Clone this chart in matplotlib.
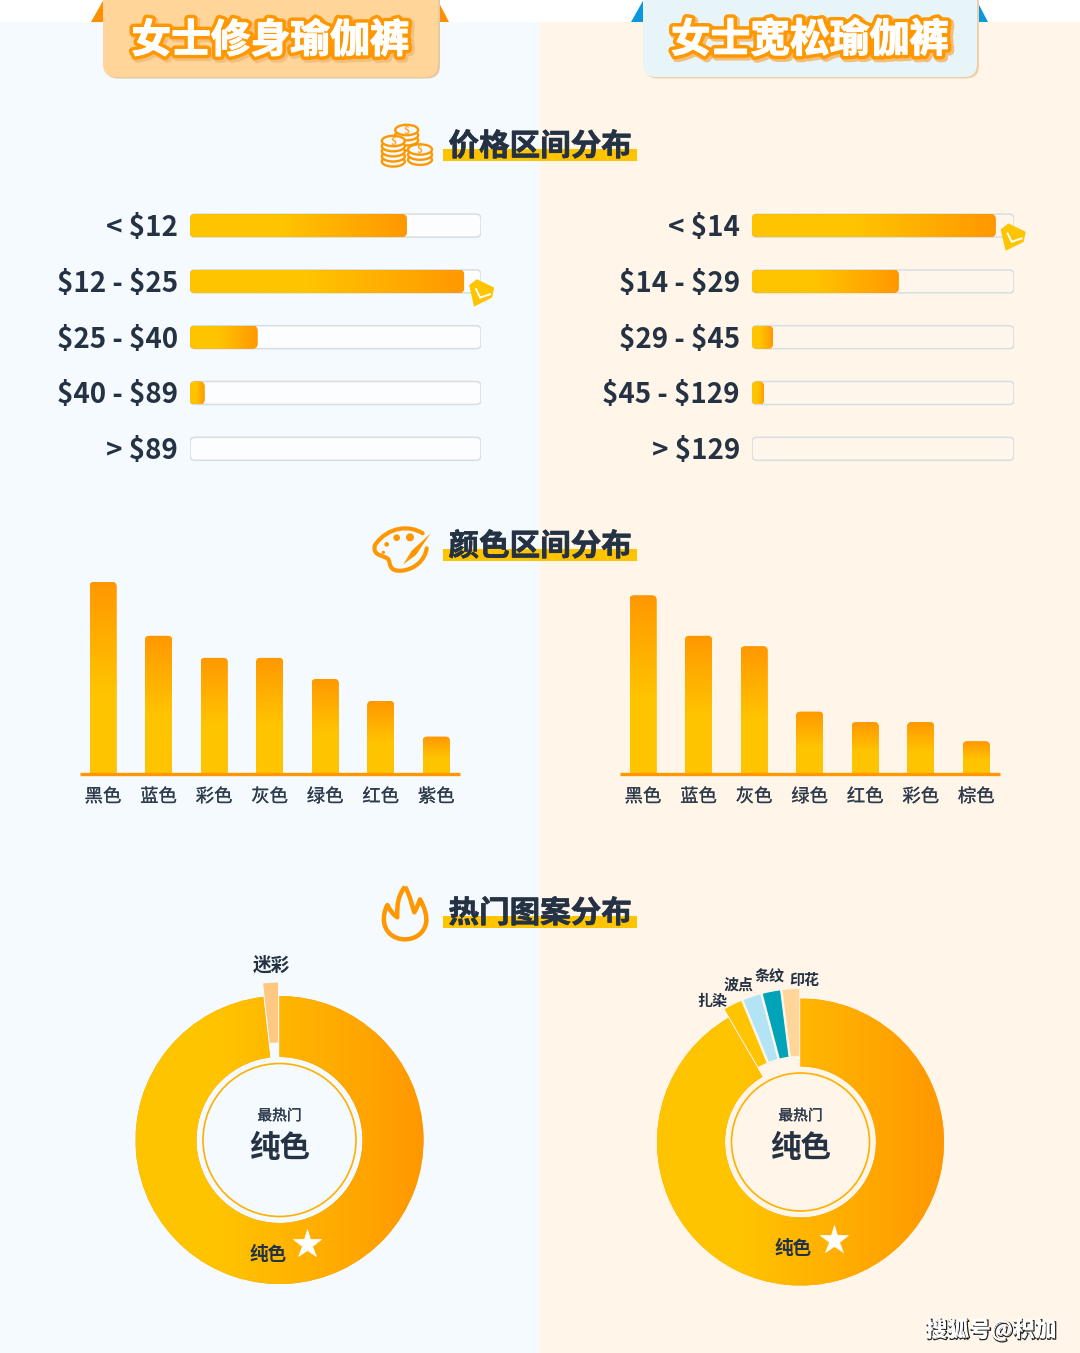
import numpy as np
import matplotlib
matplotlib.use('Agg')
import matplotlib.pyplot as plt
from matplotlib.patches import FancyBboxPatch, Polygon, Rectangle, Ellipse, Circle, PathPatch
from matplotlib.path import Path
from matplotlib.colors import LinearSegmentedColormap
import matplotlib.patheffects as pe

# ---- data ----
left_title = '女士修身瑜伽裤'
right_title = '女士宽松瑜伽裤'
section_titles = ['价格区间分布', '颜色区间分布', '热门图案分布']

left_price_labels = ['< $12', '$12 - $25', '$25 - $40', '$40 - $89', '> $89']
left_price_values = [74.5, 94.2, 23.2, 5.0, 0]
right_price_labels = ['< $14', '$14 - $29', '$29 - $45', '$45 - $129', '> $129']
right_price_values = [93.0, 56.0, 8.0, 4.6, 0]

left_color_labels = ['黑色', '蓝色', '彩色', '灰色', '绿色', '红色', '紫色']
left_color_values = [100, 72, 60.5, 60.5, 49.5, 38, 19.5]
right_color_labels = ['黑色', '蓝色', '灰色', '绿色', '红色', '彩色', '棕色']
right_color_values = [93, 72, 66.5, 32.5, 27, 27, 17]

left_pie_labels = ['迷彩', '纯色']
left_pie_values = [1.8, 98.2]
right_pie_labels = ['印花', '条纹', '波点', '扎染', '纯色']
right_pie_values = [2.0, 2.1, 2.1, 2.2, 91.6]

# ---- style ----
W, H = 1080, 1353
CJK = ['Noto Sans CJK SC', 'DejaVu Sans']
plt.rcParams['font.family'] = CJK
DARK = '#253244'
ORANGE = '#FF9800'
YELLOW = '#FFC400'
BG_L = '#F4FAFD'
BG_R = '#FFF5E8'
grad = LinearSegmentedColormap.from_list(
    'g', [(0, YELLOW), (0.42, YELLOW), (1, ORANGE)])
grad_pie = LinearSegmentedColormap.from_list(
    'gp', [(0, YELLOW), (0.28, YELLOW), (1, ORANGE)])

fig = plt.figure(figsize=(W / 100, H / 100), dpi=100, facecolor='white')


def px_axes(x0, y0, x1, y1, z=2):
    ax = fig.add_axes([x0 / W, 1 - y1 / H, (x1 - x0) / W, (y1 - y0) / H], zorder=z)
    ax.patch.set_alpha(0)
    return ax


def overlay(z):
    ax = fig.add_axes([0, 0, 1, 1], zorder=z)
    ax.set_xlim(0, W)
    ax.set_ylim(H, 0)
    ax.axis('off')
    ax.patch.set_alpha(0)
    return ax


def thick(color, lw):
    return [pe.Stroke(linewidth=lw, foreground=color), pe.Normal()]


bg = overlay(0)
fg = overlay(6)

# backgrounds
bg.add_patch(Rectangle((0, 22), 540, H - 22, fc=BG_L, ec='none'))
bg.add_patch(Rectangle((540, 22), 540, H - 22, fc=BG_R, ec='none'))


def banner(x0, x1, title, cx, cy, fill, tri, shadow):
    for pts in ([(x0 - 12, 21.5), (x0 + 1, 21.5), (x0 + 1, -1)],
                [(x1 + 11, 21.5), (x1 - 1, 21.5), (x1 - 1, -1)]):
        fg.add_patch(Polygon(pts, fc=tri, ec='none'))
    fg.add_patch(FancyBboxPatch((x0 + 2, -30), x1 - x0, 108.5,
                                boxstyle='round,pad=0,rounding_size=13', fc=shadow, ec='none'))
    fg.add_patch(FancyBboxPatch((x0, -30), x1 - x0, 107,
                                boxstyle='round,pad=0,rounding_size=13', fc=fill, ec='none'))
    fg.text(cx, cy, title, ha='center', va='center', fontsize=28.6, fontweight='bold',
            color='white', path_effects=[
                pe.Stroke(linewidth=6.8, foreground='#F3BE7C', offset=(1.5, -1.5)),
                pe.Stroke(linewidth=5.8, foreground=ORANGE),
                pe.Stroke(linewidth=0.8, foreground='white'),
                pe.Normal()])


banner(103, 438, left_title, 270.5, 41, '#FFD59A', '#FF8F00', '#E6C9A2')
banner(643, 977, right_title, 810, 40.5, '#E7F5F8', '#0A98DC', '#EFCFA8')

# section titles
for title, ty in zip(section_titles, [144, 544, 911]):
    fg.add_patch(Rectangle((443, ty + 5), 194, 12, fc=YELLOW, ec='none', zorder=1))
    fg.text(540, ty + 2.5, title, ha='center', va='center', fontsize=22, fontweight='bold',
            color=DARK, zorder=2, path_effects=thick(DARK, 0.5))


# ---- icons ----
def coin_stack(cx, top, rx, ry, n):
    step = 5.1
    for i in range(n, -1, -1):
        fg.add_patch(Ellipse((cx, top + i * step), 2 * rx, 2 * ry, fc=BG_L, ec=ORANGE, lw=1.7))
    fg.text(cx, top + 0.8, '$', ha='center', va='center', fontsize=7.5, fontweight='bold',
            color='#FFA726', parse_math=False)


coin_stack(406.7, 130, 11.5, 5.2, 3)
coin_stack(393.3, 141, 11.5, 5.2, 4)
coin_stack(420, 149.5, 12, 5.2, 2)

# palette
sx = lambda pts: [(360 + x / 3, 510 + y / 3) for x, y in pts]
pal = Path(sx([(188, 70), (150, 45), (85, 48), (45, 105),
               (35, 140), (75, 135), (85, 148),
               (92, 160), (85, 185), (125, 182),
               (165, 178), (195, 150), (200, 115)]),
           [Path.MOVETO] + [Path.CURVE4] * 12)
fg.add_patch(PathPatch(pal, fc='none', ec=ORANGE, lw=3, capstyle='round'))
fg.add_patch(Polygon(sx([(212, 70), (155, 122), (130, 163), (168, 135)]), fc=ORANGE, ec='none'))
for (x, y, r) in [(150, 82, 12), (110, 83, 10), (80, 103, 7), (70, 127, 5)]:
    fg.add_patch(Circle((360 + x / 3, 510 + y / 3), r / 3, fc=ORANGE, ec='none'))

# flame
fp = lambda pts: [(370 + x / 3, 880 + y / 3) for x, y in pts]
flame = Path(fp([(105, 20), (122, 50), (125, 75), (133, 97), (140, 85), (145, 72), (150, 58),
                 (165, 85), (172, 110), (168, 130), (162, 160), (135, 178), (105, 178),
                 (70, 178), (45, 155), (42, 125), (40, 105), (45, 90), (52, 75),
                 (60, 90), (70, 105), (82, 112), (80, 75), (85, 45), (105, 20)]),
             [Path.MOVETO] + [Path.CURVE4] * 24)
fg.add_patch(PathPatch(flame, fc='none', ec=ORANGE, lw=3.2, joinstyle='round'))


# ---- price bars ----
def price_panel(x0, x1, labels, values, track_fc, label_x):
    step, h, r = 55.8, 23.0, 5.0
    y_first = 225.6
    ax = px_axes(x0, y_first - step / 2, x1, y_first + 4.5 * step)
    pxx = (x1 - x0) / 100.0
    aspect = (1 / step) / (1 / pxx)
    hu = h / step
    ys = np.arange(len(values))
    rs = r / pxx
    for y in ys:
        ax.add_patch(FancyBboxPatch((0, y - hu / 2), 100, hu,
                                    boxstyle=f'round,pad=0,rounding_size={rs}', mutation_aspect=aspect,
                                    fc=track_fc, ec='#D8DEE0', lw=1.1, zorder=1))
    bars = ax.barh(ys, values, height=hu, color=ORANGE, zorder=2)
    for y, v, bar in zip(ys, values, bars):
        if v <= 0:
            continue
        clip = FancyBboxPatch((0, y - hu / 2), v, hu,
                              boxstyle=f'round,pad=0,rounding_size={rs}', mutation_aspect=aspect,
                              fc='none', ec='none', zorder=2)
        ax.add_patch(clip)
        bar.set_clip_path(clip)
        im = ax.imshow(np.linspace(0, 1, 256)[None, :], extent=(0, v, y + hu / 2, y - hu / 2),
                       cmap=grad, vmin=0, vmax=1, aspect='auto', zorder=3, interpolation='bilinear')
        im.set_clip_path(clip)
    ax.set_xlim(0, 100)
    ax.set_ylim(len(values) - 0.5, -0.5)
    ax.axis('off')
    for y, lab in zip(ys, labels):
        fg.text(label_x, y_first + y * step + 2.5, lab, ha='right', va='center', fontsize=20,
                fontweight='bold', color=DARK, parse_math=False)
    # badge on the longest bar
    i = int(np.argmax(values))
    bx = x0 + values[i] * pxx + 18
    by = y_first + i * step + 10.5
    rel = [(-5.3, -12.7), (12, -4.3), (10, 5.7), (-8, 14.7), (-13, -6.7)]
    fg.add_patch(Polygon([(bx + a, by + b) for a, b in rel], fc=YELLOW, ec='none'))
    fg.plot([bx - 6, bx - 2, bx + 8], [by - 2.7, by + 5.7, by + 2.3], color='white', lw=1.4,
            solid_joinstyle='miter')


price_panel(190, 481, left_price_labels, left_price_values, '#FBFDFE', 178)
price_panel(752, 1014, right_price_labels, right_price_values, '#FFF6EB', 740)


# ---- colour columns ----
def column_panel(x0, x1, labels, values):
    base, py100 = 774, 1.92
    step, w_px, r_px = 55.55, 27.0, 4.5
    ax = px_axes(x0, base - 106 * py100, x1, base)
    xs = np.arange(len(values))
    left_px = 23.0
    ax.set_xlim(-left_px / step, (x1 - x0 - left_px) / step)
    ax.set_ylim(0, 106)
    w = w_px / step
    aspect = (1 / py100) / (1 / step)
    rs = r_px / step
    bars = ax.bar(xs, values, width=w, color=ORANGE, zorder=2)
    for x, v, bar in zip(xs, values, bars):
        clip = FancyBboxPatch((x - w / 2, -5), w, v + 5,
                              boxstyle=f'round,pad=0,rounding_size={rs}', mutation_aspect=aspect,
                              fc='none', ec='none', zorder=2)
        ax.add_patch(clip)
        bar.set_clip_path(clip)
        im = ax.imshow(np.linspace(1, 0, 256)[:, None], extent=(x - w / 2, x + w / 2, 0, v),
                       cmap=grad, vmin=0, vmax=1, aspect='auto', zorder=3, interpolation='bilinear')
        im.set_clip_path(clip)
    ax.set_xlim(-left_px / step, (x1 - x0 - left_px) / step)
    ax.set_ylim(0, 106)
    for s in ['top', 'left', 'right']:
        ax.spines[s].set_visible(False)
    ax.spines['bottom'].set_color(ORANGE)
    ax.spines['bottom'].set_linewidth(2.4)
    ax.spines['bottom'].set_capstyle('butt')
    ax.spines['bottom'].set_zorder(5)
    ax.set_yticks([])
    ax.set_xticks(xs)
    ax.set_xticklabels(labels, fontsize=13.2, color='#2E3B4C')
    for t in ax.get_xticklabels():
        t.set_path_effects(thick('#2E3B4C', 0.15))
    ax.tick_params(axis='x', length=0, pad=10)


column_panel(80, 460, left_color_labels, left_color_values)
column_panel(620, 1000, right_color_labels, right_color_values)


# ---- donuts ----
def donut(cx, cy, R, r_in, r_ring, values, colors, explode, main_idx, bgc):
    half = R * 1.25
    ax = px_axes(cx - half, cy - half, cx + half, cy + half)
    wedges, _ = ax.pie(values, colors=colors, startangle=90, counterclock=True, explode=explode,
                       radius=1, normalize=True,
                       wedgeprops=dict(width=(R - r_in) / R, edgecolor=bgc, linewidth=0.8))
    main = wedges[main_idx]
    main.set_edgecolor('none')
    im = ax.imshow(np.linspace(0, 1, 512)[None, :], extent=(-1, 1, -1, 1), cmap=grad_pie, vmin=0, vmax=1,
                   aspect='equal', zorder=3, interpolation='bilinear')
    im.set_clip_path(main)
    ax.add_patch(Circle((0, 0), r_ring / R, fc='none', ec='#FFB000', lw=1.2, zorder=4))
    ax.set_xlim(-1.25, 1.25)
    ax.set_ylim(-1.25, 1.25)
    ax.set_aspect('equal')
    ax.axis('off')


donut(279.5, 1140, 144, 83, 76.5, left_pie_values, ['#FFC880', ORANGE],
      [0.097, 0], 1, BG_L)
donut(800.5, 1142, 143.5, 75.5, 69, right_pie_values,
      ['#FFD59A', '#00A3B8', '#B2E4F6', YELLOW, ORANGE],
      [0.07, 0.07, 0.07, 0.07, 0], 4, BG_R)

for cx in (279.5, 800.5):
    fg.text(cx, 1116, '最热门', ha='center', va='center', fontsize=10.6, color='#2E3B4C',
            path_effects=thick('#2E3B4C', 0.25))
    fg.text(cx, 1148, '纯色', ha='center', va='center', fontsize=22, fontweight='bold', color=DARK)

fg.text(268, 1254, left_pie_labels[1], ha='center', va='center', fontsize=13.4, fontweight='bold', color=DARK)
fg.text(793, 1249, right_pie_labels[4], ha='center', va='center', fontsize=13.4, fontweight='bold', color=DARK)
fg.text(271, 965, left_pie_labels[0], ha='center', va='center', fontsize=13.4, fontweight='bold', color=DARK)
for lab, (x, y) in zip(right_pie_labels[:4], [(804, 980), (770, 977), (739, 985), (712, 1001)]):
    fg.text(x, y, lab, ha='center', va='center', fontsize=10.8, fontweight='bold', color=DARK)

fg.plot([307, 834], [1244, 1240], ls='none', marker='*', ms=21, mfc='white', mec='white', mew=0.5)

# watermark
fg.text(990.5, 1330, '搜狐号@积加', ha='center', va='center', fontsize=15.7, color='white', fontweight='bold',
        path_effects=[pe.Stroke(linewidth=0.9, foreground='#222222', offset=(0.9, -0.9)), pe.Normal()])

fg.set_xlim(0, W)
fg.set_ylim(H, 0)
fig.savefig('out.png', dpi=100, facecolor='white')
